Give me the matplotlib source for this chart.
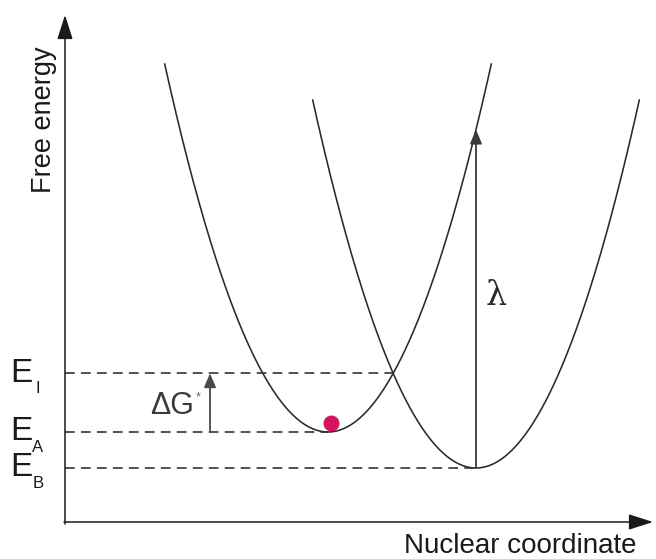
import numpy as np
import matplotlib
matplotlib.use('Agg')
import matplotlib.pyplot as plt

plt.rcParams['font.family'] = ['Liberation Sans', 'DejaVu Sans']
plt.rcParams['lines.scale_dashes'] = False

# Marcus picture: two harmonic free-energy wells along the nuclear coordinate
q_A, E_A = 2.63, 0.90     # reactant well (state A)
q_B, E_B = 4.11, 0.54     # product well (state B)
k = 1.38                  # common curvature
G_top_A, G_top_B = 4.58, 4.22   # where each parabola is cut off
ball_q, ball_G = 2.66, 0.99     # system sitting in well A

level_names = ['I', 'A', 'B']

# crossing point of the two wells -> E_I
q_I = (E_B - E_A + k * (q_B**2 - q_A**2)) / (2 * k * (q_B - q_A))
E_I = E_A + k * (q_I - q_A) ** 2
lam = E_A + k * (q_B - q_A) ** 2   # left well evaluated at q_B

fig = plt.figure(figsize=(6.56, 5.59), dpi=100)
ax = fig.add_axes([0, 0, 1, 1])
ax.set_xlim(-0.65, 5.91)
ax.set_ylim(-0.37, 5.22)
ax.axis('off')

curve_col = '#2a2a2a'

# parabolas
half_A = np.sqrt((G_top_A - E_A) / k)
qa = np.linspace(q_A - half_A, q_A + half_A, 400)
ax.plot(qa, E_A + k * (qa - q_A) ** 2, color=curve_col, lw=1.15)
half_B = np.sqrt((G_top_B - E_B) / k)
qb = np.linspace(q_B - half_B, q_B + half_B, 400)
ax.plot(qb, E_B + k * (qb - q_B) ** 2, color=curve_col, lw=1.15)

# axes with arrow heads
ax_arrow = dict(arrowstyle='-|>,head_length=1.0,head_width=0.32', color='#1a1a1a',
                lw=1.1, mutation_scale=15, shrinkA=0, shrinkB=0)
ax.annotate('', xy=(0, 5.07), xytext=(0, -0.02), arrowprops=ax_arrow)
ax.annotate('', xy=(5.88, 0), xytext=(-0.01, 0), arrowprops=ax_arrow)

# dashed energy levels
dash = (0, (7, 4.5))
ax.plot([0, q_I], [E_I, E_I], color='#333333', lw=1.2, ls=dash)
ax.plot([0, q_A], [E_A, E_A], color='#333333', lw=1.2, ls=dash)
ax.plot([0, q_B], [E_B, E_B], color='#333333', lw=1.2, ls=dash)

# activation energy arrow
ax.annotate('', xy=(1.45, E_I), xytext=(1.45, E_A),
            arrowprops=dict(arrowstyle='-|>,head_length=0.7,head_width=0.3',
                            color='#4a4a4a', lw=1.3, mutation_scale=12,
                            shrinkA=0, shrinkB=0))
ax.text(1.29, (E_I + E_A) / 2 - 0.03, '\u0394G', fontsize=22, color='#3a3a3a',
        ha='right', va='center')
ax.text(1.31, (E_I + E_A) / 2 + 0.05, '*', fontsize=9, color='#666666',
        ha='left', va='center')

# reorganisation energy arrow
ax.annotate('', xy=(q_B, lam), xytext=(q_B, E_B),
            arrowprops=dict(arrowstyle='-|>,head_length=0.7,head_width=0.3',
                            color='#3a3a3a', lw=1.3, mutation_scale=12,
                            shrinkA=0, shrinkB=0))
ax.text(q_B + 0.2, 2.26, '\u03bb', fontsize=24, family='DejaVu Serif',
        color='#2a2a2a', ha='center', va='center')

# the ball
ax.plot(ball_q, ball_G, 'o', ms=10.5, color='#d3135f', mec='#d3135f')

# level labels
for name, E in zip(level_names, [E_I, E_A, E_B]):
    ax.text(-0.44, E, 'E', fontsize=24, color='#1a1a1a', ha='center', va='center')
    ax.text(-0.27, E - 0.15, name, fontsize=12, color='#1a1a1a',
            ha='center', va='center')

ax.text(-0.21, 4.02, 'Free energy', fontsize=19.5, rotation=90, color='#1a1a1a',
        ha='center', va='center')
ax.text(4.55, -0.24, 'Nuclear coordinate', fontsize=20, color='#1a1a1a',
        ha='center', va='center')

fig.savefig('out.png', dpi=100, facecolor='white')
